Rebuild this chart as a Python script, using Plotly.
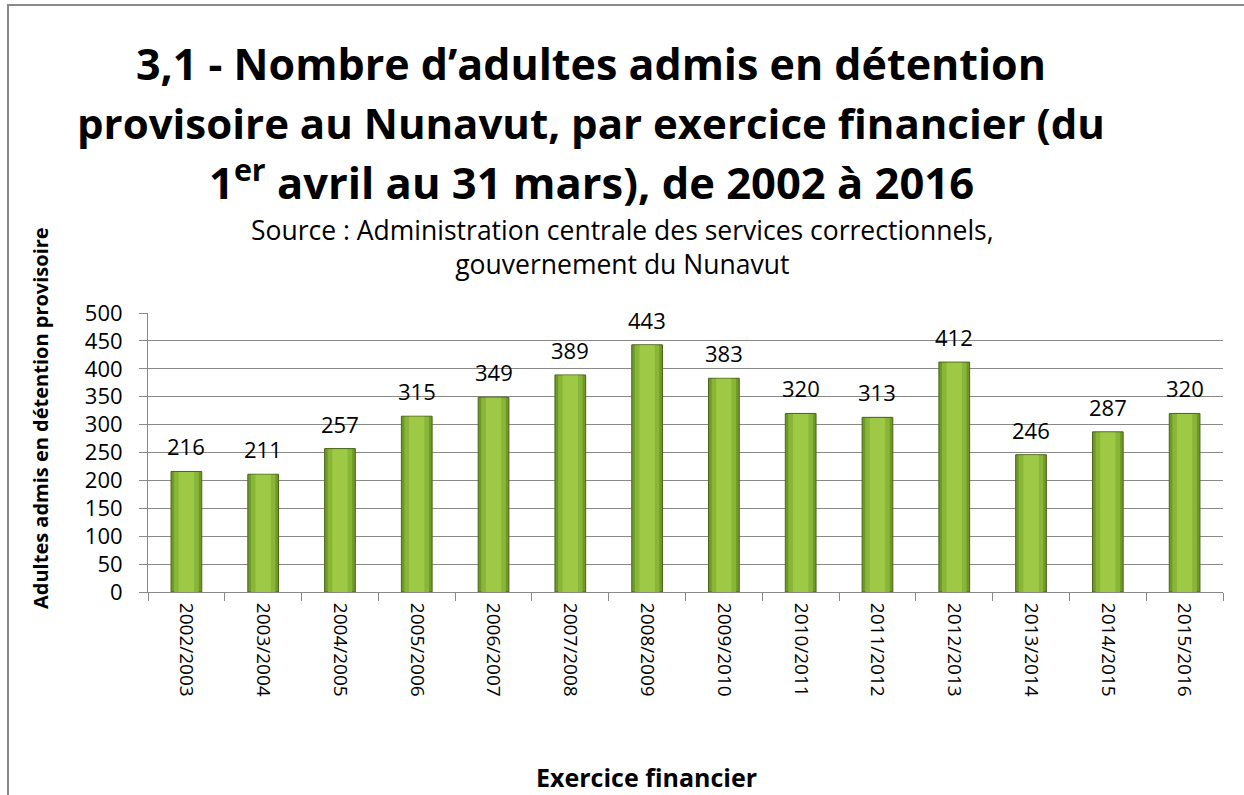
import plotly.graph_objects as go

categories = ["2002/2003", "2003/2004", "2004/2005", "2005/2006", "2006/2007",
              "2007/2008", "2008/2009", "2009/2010", "2010/2011", "2011/2012",
              "2012/2013", "2013/2014", "2014/2015", "2015/2016"]
values = [216, 211, 257, 315, 349, 389, 443, 383, 320, 313, 412, 246, 287, 320]
y_ticks = [0, 50, 100, 150, 200, 250, 300, 350, 400, 450, 500]

title_lines = ["3,1 - Nombre d’adultes admis en détention",
               "provisoire au Nunavut, par exercice financier (du",
               "1<sup>er</sup> avril au 31 mars), de 2002 à 2016"]
subtitle_lines = ["Source : Administration centrale des services correctionnels,",
                  "gouvernement du Nunavut"]
y_title = "Adultes admis en détention provisoire"
x_title = "Exercice financier"

W, H = 1244, 795
L, R, T, B = 148, 21, 313, 203
PW, PH = W - L - R, H - T - B


def px(x):
    return (x - L) / PW


def py(y):
    return (H - B - y) / PH


FONT = "Open Sans, Lato, DejaVu Sans, sans-serif"
GRAY = "#898989"

fig = go.Figure()
fig.add_trace(go.Bar(x=categories, y=values, width=0.40,
                     marker=dict(color="#6f9829", line=dict(color="#4a6418", width=1)),
                     hoverinfo="x+y"))
fig.add_trace(go.Bar(x=categories, y=[v - 1 for v in values], width=0.32,
                     marker=dict(color="#88b636", line=dict(width=0)), hoverinfo="skip"))
fig.add_trace(go.Bar(x=categories, y=[v - 1 for v in values], width=0.2,
                     marker=dict(color="#9ec947", line=dict(width=0)), hoverinfo="skip"))

annotations = []
for c, v in zip(categories, values):
    annotations.append(dict(text=str(v), x=c, y=v, xref="x", yref="y",
                            xanchor="center", yanchor="bottom", yshift=8, showarrow=False,
                            font=dict(family=FONT, size=22, color="#000")))
title_sizes = [43, 42, 43.5]
for line, yc, fs in zip(title_lines, [63, 122, 180], title_sizes):
    annotations.append(dict(text="<b>" + line + "</b>", x=px(591), y=py(yc), xref="paper", yref="paper",
                            xanchor="center", yanchor="middle", showarrow=False,
                            font=dict(family=FONT, size=fs, color="#000")))
annotations.append(dict(text="<br>".join(subtitle_lines), x=px(622), y=py(247),
                        xref="paper", yref="paper", align="center",
                        xanchor="center", yanchor="middle", showarrow=False,
                        font=dict(family=FONT, size=26.5, color="#000")))
annotations.append(dict(text="<b>" + y_title + "</b>", x=px(40), y=py(418), xref="paper", yref="paper",
                        xanchor="center", yanchor="middle", showarrow=False, textangle=-90,
                        font=dict(family=FONT, size=20, color="#000")))
annotations.append(dict(text="<b>" + x_title + "</b>", x=px(646), y=py(777), xref="paper", yref="paper",
                        xanchor="center", yanchor="middle", showarrow=False,
                        font=dict(family=FONT, size=25, color="#000")))

fig.update_layout(
    width=W, height=H,
    margin=dict(l=L, r=R, t=T, b=B, autoexpand=False),
    paper_bgcolor="white", plot_bgcolor="white",
    barmode="overlay", showlegend=False,
    annotations=annotations,
    shapes=[dict(type="rect", xref="paper", yref="paper",
                 x0=px(8), y0=py(5), x1=px(1260), y1=py(830),
                 line=dict(color=GRAY, width=2), fillcolor="rgba(0,0,0,0)", layer="below")],
    xaxis=dict(type="category", showgrid=False, showline=True, linecolor=GRAY, linewidth=1,
               ticks="outside", tickson="boundaries", ticklen=8, tickcolor=GRAY,
               tickangle=90, ticklabelstandoff=6,
               tickfont=dict(family=FONT, size=19, color="#000"),
               range=[-0.5, len(categories) - 0.5]),
    yaxis=dict(range=[0, 500], tickvals=y_ticks, showgrid=True, gridcolor=GRAY, gridwidth=1,
               showline=True, linecolor=GRAY, linewidth=1, ticks="outside", ticklen=8,
               tickcolor=GRAY, ticklabelstandoff=12,
               tickfont=dict(family=FONT, size=22, color="#000"),
               zeroline=False),
)

fig.write_html("out.html", config={"displayModeBar": False},
               post_script="document.body.style.margin='0';")
